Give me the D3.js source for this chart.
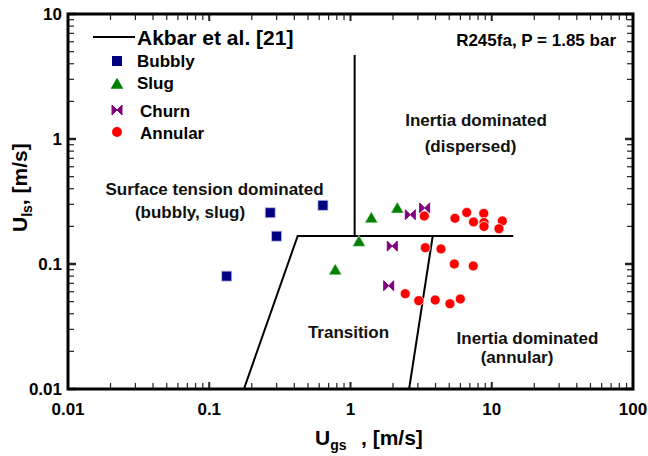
<!DOCTYPE html>
<html>
<head>
<meta charset="utf-8">
<script src="https://cdn.jsdelivr.net/npm/d3@7"></script>
<style>
  body { margin: 0; background: #fff; }
  svg { display: block; font-family: "Liberation Sans", Arial, sans-serif; font-weight: bold; }
</style>
</head>
<body>
<svg id="chart" width="648" height="456"></svg>
<script>
"use strict";

// flow pattern data, [Ugs, Uls] in m/s
const bubbly = [[0.133, 0.080], [0.270, 0.257], [0.300, 0.167], [0.638, 0.295]];
const slug = [[0.780, 0.0895], [1.148, 0.151], [1.404, 0.233], [2.145, 0.279]];
const churn = [[2.651, 0.248], [3.35, 0.281], [1.977, 0.139], [1.864, 0.067]];
const annular = [
    [3.33, 0.242], [5.49, 0.232], [6.65, 0.258], [7.43, 0.217], [8.78, 0.254],
    [8.81, 0.215], [8.81, 0.1995], [11.88, 0.221], [11.25, 0.1915],
    [3.385, 0.135], [4.37, 0.132], [5.43, 0.100], [7.40, 0.0964],
    [2.44, 0.0579], [3.04, 0.0509], [3.98, 0.0515], [5.06, 0.0481], [5.99, 0.0525]
];

// Akbar et al. transition boundaries
const akbarLines = [
    [[0.176, 0.01], [0.4227, 0.1675], [14.2, 0.1675]],
    [[1.07, 0.1675], [1.07, 4.7]],
    [[2.6, 0.01], [3.82, 0.1675]]
];

const xTickLabels = ["0.01", "0.1", "1", "10", "100"];
const yTickLabels = ["0.01", "0.1", "1", "10"];

// region labels, placed in data coordinates
const regionLabels = [
    {text: "Inertia dominated", x: 7.74, y: 1.27},
    {text: "(dispersed)", x: 7.07, y: 0.787},
    {text: "Surface tension dominated", x: 0.109, y: 0.356},
    {text: "(bubbly, slug)", x: 0.0731, y: 0.233},
    {text: "Transition", x: 0.968, y: 0.0256},
    {text: "Inertia dominated", x: 17.9, y: 0.0229},
    {text: "(annular)", x: 15.1, y: 0.01614}
];

const size = {left: 68, right: 633, top: 14, bottom: 389};

const svg = d3.select("#chart");

const x = d3.scaleLog().domain([0.01, 100]).range([size.left, size.right]);
const y = d3.scaleLog().domain([0.01, 10]).range([size.bottom, size.top]);

function logTicks(lo, hi) {
    let minor = [], major = [];
    for (let d = lo; d < hi; d *= 10) {
        major.push(d);
        for (let k = 2; k <= 9; k++) minor.push(+(d * k).toPrecision(3));
    }
    major.push(hi);
    return {minor, major};
}

const xt = logTicks(0.01, 100);
const yt = logTicks(0.01, 10);

// ticks drawn inward on all four sides
const ticks = svg.append("g").attr("stroke", "#222");
function tickSet(vals, len, w) {
    vals.forEach(v => {
        ticks.append("line").attr("x1", x(v)).attr("x2", x(v))
            .attr("y1", size.bottom).attr("y2", size.bottom - len).attr("stroke-width", w);
        ticks.append("line").attr("x1", x(v)).attr("x2", x(v))
            .attr("y1", size.top).attr("y2", size.top + len).attr("stroke-width", w);
    });
}
function tickSetY(vals, len, w) {
    vals.forEach(v => {
        ticks.append("line").attr("y1", y(v)).attr("y2", y(v))
            .attr("x1", size.left).attr("x2", size.left + len).attr("stroke-width", w);
        ticks.append("line").attr("y1", y(v)).attr("y2", y(v))
            .attr("x1", size.right).attr("x2", size.right - len).attr("stroke-width", w);
    });
}
tickSet(xt.minor, 6, 1.2);
tickSet(xt.major, 7, 2);
tickSetY(yt.minor, 6, 1.2);
tickSetY(yt.major, 8, 2.5);

// tick labels
svg.append("g").selectAll("text")
    .data(xt.major)
    .enter().append("text")
    .attr("x", d => x(d))
    .attr("y", 415)
    .attr("text-anchor", "middle")
    .attr("font-size", 17)
    .text((d, i) => xTickLabels[i]);

svg.append("g").selectAll("text")
    .data(yt.major)
    .enter().append("text")
    .attr("x", 62)
    .attr("y", d => y(d) + 6)
    .attr("text-anchor", "end")
    .attr("font-size", 17)
    .text((d, i) => yTickLabels[i]);

// boundary lines
const line = d3.line().x(d => x(d[0])).y(d => y(d[1]));
svg.append("g").selectAll("path")
    .data(akbarLines)
    .enter().append("path")
    .attr("d", line)
    .attr("fill", "none")
    .attr("stroke", "#000")
    .attr("stroke-width", 2);

// markers
const bowtie = "M-5,-5L0,0L-5,5ZM5,-5L0,0L5,5Z";
const tri = d3.symbol().type(d3.symbolTriangle).size(70)();

svg.append("g").selectAll("rect").data(bubbly).enter().append("rect")
    .attr("x", d => x(d[0]) - 5).attr("y", d => y(d[1]) - 5)
    .attr("width", 10).attr("height", 10)
    .attr("fill", "#000080").attr("stroke", "#b8bde0").attr("stroke-width", 0.8);

svg.append("g").selectAll("path").data(slug).enter().append("path")
    .attr("transform", d => "translate(" + x(d[0]) + "," + (y(d[1]) + 1) + ")")
    .attr("d", tri)
    .attr("fill", "#008000").attr("stroke", "#c8e6c8").attr("stroke-width", 0.6);

svg.append("g").selectAll("path").data(churn).enter().append("path")
    .attr("transform", d => "translate(" + x(d[0]) + "," + y(d[1]) + ")")
    .attr("d", bowtie)
    .attr("fill", "#800080").attr("stroke", "#800080").attr("stroke-width", 1);

svg.append("g").selectAll("circle").data(annular).enter().append("circle")
    .attr("cx", d => x(d[0])).attr("cy", d => y(d[1])).attr("r", 5)
    .attr("fill", "#ff0000").attr("stroke", "#fff").attr("stroke-width", 0.7);

// plot frame
svg.append("rect")
    .attr("x", size.left).attr("y", size.top)
    .attr("width", size.right - size.left).attr("height", size.bottom - size.top)
    .attr("fill", "none").attr("stroke", "#000").attr("stroke-width", 3);

// region labels
svg.append("g").selectAll("text")
    .data(regionLabels)
    .enter().append("text")
    .attr("x", d => x(d.x))
    .attr("y", d => y(d.y))
    .attr("text-anchor", "middle")
    .attr("font-size", 17)
    .attr("fill", "#111")
    .text(d => d.text);

svg.append("text")
    .attr("x", 616).attr("y", 46)
    .attr("text-anchor", "end")
    .attr("font-size", 17)
    .text("R245fa, P = 1.85 bar");

// legend
const legend = svg.append("g");
legend.append("line").attr("x1", 93).attr("x2", 135).attr("y1", 37).attr("y2", 37)
    .attr("stroke", "#000").attr("stroke-width", 2);
legend.append("text").attr("x", 137).attr("y", 45).attr("font-size", 21).text("Akbar et al. [21]");

legend.append("rect").attr("x", 112).attr("y", 56).attr("width", 10).attr("height", 10)
    .attr("fill", "#000080");
legend.append("text").attr("x", 137).attr("y", 67).attr("font-size", 17).text("Bubbly");

legend.append("path").attr("transform", "translate(117,85)").attr("d", tri).attr("fill", "#008000");
legend.append("text").attr("x", 137).attr("y", 89).attr("font-size", 17).text("Slug");

legend.append("path").attr("transform", "translate(117,110)").attr("d", bowtie)
    .attr("fill", "#800080").attr("stroke", "#800080");
legend.append("text").attr("x", 140).attr("y", 117).attr("font-size", 17).text("Churn");

legend.append("circle").attr("cx", 117).attr("cy", 132).attr("r", 5).attr("fill", "#ff0000");
legend.append("text").attr("x", 140).attr("y", 139).attr("font-size", 17).text("Annular");

// axis titles
const xTitle = svg.append("text").attr("x", 315).attr("y", 445).attr("font-size", 21);
xTitle.append("tspan").text("U");
xTitle.append("tspan").attr("font-size", 14).attr("dy", 5).text("gs");
xTitle.append("tspan").attr("x", 361).attr("dy", -5).text(", [m/s]");

const yTitle = svg.append("text").attr("transform", "translate(27,232) rotate(-90)").attr("font-size", 21);
yTitle.append("tspan").text("U");
yTitle.append("tspan").attr("font-size", 14).attr("dy", 5).text("ls");
yTitle.append("tspan").attr("dy", -5).text(", [m/s]");
</script>
</body>
</html>
